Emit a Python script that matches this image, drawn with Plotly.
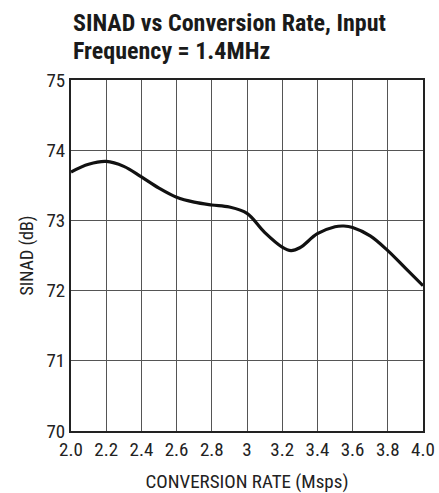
import plotly.graph_objects as go

rate = [2.0, 2.1, 2.2, 2.3, 2.4, 2.5, 2.6, 2.7, 2.8, 2.9, 3.0, 3.1, 3.2, 3.25, 3.3, 3.4, 3.5, 3.55, 3.6, 3.7, 3.8, 3.9, 4.0]
sinad = [73.69, 73.80, 73.84, 73.77, 73.62, 73.46, 73.33, 73.26, 73.22, 73.19, 73.10, 72.83, 72.62, 72.57, 72.61, 72.81, 72.91, 72.92, 72.90, 72.78, 72.57, 72.32, 72.07]

x_ticks = [2.0, 2.2, 2.4, 2.6, 2.8, 3.0, 3.2, 3.4, 3.6, 3.8, 4.0]
x_tick_labels = ["2.0", "2.2", "2.4", "2.6", "2.8", "3", "3.2", "3.4", "3.6", "3.8", "4.0"]
y_ticks = [70, 71, 72, 73, 74, 75]
title_lines = ["SINAD vs Conversion Rate, Input", "Frequency = 1.4MHz"]

W, H = 439, 493
L, R, T, B = 71, 16, 80, 62
plot_h = H - T - B

def py(px):
    return (H - B - px) / plot_h

fig = go.Figure()
fig.add_trace(go.Scatter(x=rate, y=sinad, mode="lines",
                         line=dict(color="#111111", width=3.2, shape="spline", smoothing=1.0),
                         showlegend=False, hoverinfo="skip"))

font_cond = "Roboto Condensed, Liberation Sans Narrow, Arial Narrow, Roboto, sans-serif"

for line, ypx in zip(title_lines, [23, 51]):
    fig.add_annotation(text="<b>" + line + "</b>", xref="paper", yref="paper",
                       x=0, y=py(ypx), xanchor="left", yanchor="middle",
                       showarrow=False,
                       font=dict(family=font_cond, size=24, color="#1a1a1a"))

fig.update_layout(
    width=W, height=H,
    margin=dict(l=L, r=R, t=T, b=B),
    paper_bgcolor="white", plot_bgcolor="white",
    font=dict(family=font_cond, size=19, color="#222222"),
    xaxis=dict(range=[2.0, 4.0], tickvals=x_ticks, ticktext=x_tick_labels,
               showgrid=True, gridcolor="#555555", gridwidth=1,
               showline=True, linecolor="#222222", linewidth=2, mirror=True,
               ticks="", zeroline=False, tickfont=dict(size=19), automargin=False,
               title=dict(text="CONVERSION RATE (Msps)", font=dict(size=19), standoff=15)),
    yaxis=dict(range=[70, 75], tickvals=y_ticks,
               showgrid=True, gridcolor="#555555", gridwidth=1,
               showline=True, linecolor="#222222", linewidth=2, mirror=True,
               ticks="", zeroline=False, tickfont=dict(size=19), automargin=False,
               title=dict(text="SINAD (dB)", font=dict(size=18), standoff=8)),
)

fig.write_html("out.html", config={"displayModeBar": False},
               post_script="document.body.style.margin='0';")
